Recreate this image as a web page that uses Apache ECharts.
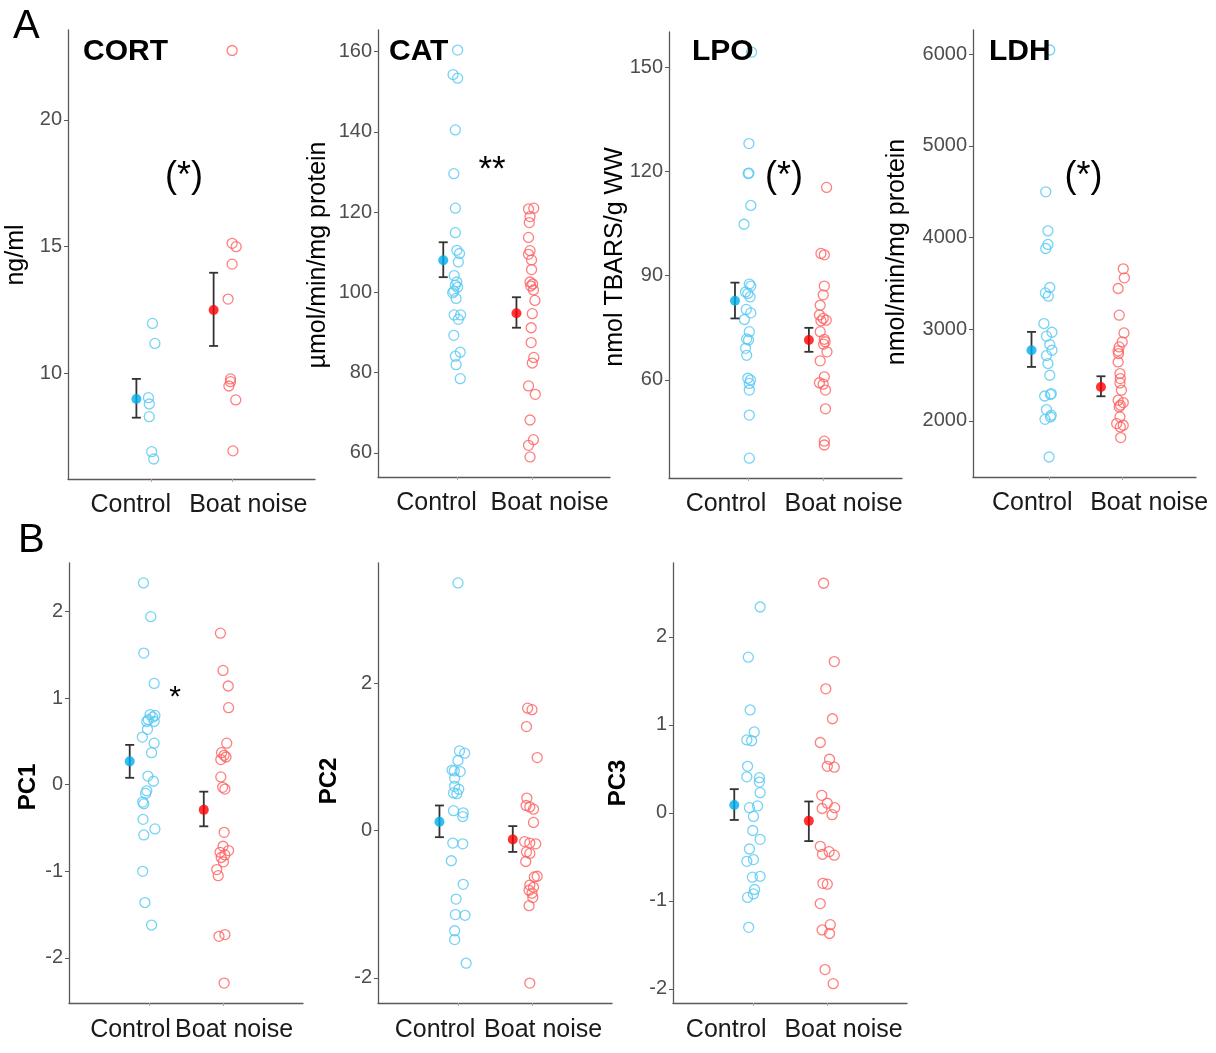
<!DOCTYPE html>
<html><head><meta charset="utf-8">
<script src="https://cdn.jsdelivr.net/npm/echarts@6/dist/echarts.min.js"></script>
<style>html,body{margin:0;padding:0;background:#fff}#c{width:1216px;height:1053px}</style>
</head><body><div id="c"></div>
<script>
const groups = ['Control', 'Boat noise'];

// ---- CORT (ng/ml)
const cortCtl = [11.97, 11.18, 9.04, 8.79, 8.29, 6.91, 6.62];
const cortCtlJit = [0.01, 0.04, -0.04, -0.03, -0.03, 0, 0.025];
const cortBoat = [22.74, 15.13, 15.0, 14.31, 12.93, 9.78, 9.67, 9.5, 8.95, 6.94];
const cortBoatJit = [0, 0, 0.05, 0, -0.05, -0.02, -0.02, -0.04, 0.045, 0.01];
const cortMean = [[8.99, 8.25, 9.78], [12.5, 11.08, 13.97]];
const cortTicks = [10, 15, 20];

// ---- CAT
const catCtl = [160.4,154.3,153.4,140.5,129.6,121.0,114.9,110.5,109.7,107.6,104.2,102.6,101.8,101.3,100.3,99.9,98.5,94.4,94.4,93.3,89.3,85.1,84.1,82.0,78.5];
const catCtlJit = [0.01,-0.05,0.01,-0.02,-0.04,-0.02,-0.02,0,0.035,0.02,-0.035,0,-0.02,0.01,-0.04,-0.055,-0.01,-0.035,0.05,0.02,-0.04,0.045,-0.02,-0.01,0.045];
const catBoat = [120.8,121.0,118.9,117.4,113.7,110.4,109.5,108.1,105.7,102.6,102.1,101.6,100.6,98.0,94.7,91.2,87.5,83.8,82.4,76.7,74.6,68.2,63.3,61.9,59.0];
const catBoatJit = [-0.05,0.02,-0.03,-0.04,-0.05,-0.03,-0.05,-0.01,-0.01,-0.03,0.005,-0.02,0.015,0.035,0,-0.015,-0.015,0.02,0,-0.05,0.04,-0.03,0.015,-0.05,-0.03];
const catMean = [[108.0, 103.8, 112.5], [94.8, 91.2, 98.8]];
const catTicks = [60, 80, 100, 120, 140, 160];

// ---- LPO
const lpoCtl = [154.3,128.0,119.5,119.4,110.2,104.8,87.6,87.0,85.3,84.9,83.9,80.3,79.3,77.4,73.9,71.8,71.5,69.1,67.1,60.5,60.0,59.0,57.1,49.9,37.5];
const lpoCtlJit = [0.05,0.015,0.015,0.005,0.04,-0.05,0.02,0.04,-0.03,0,0.03,-0.02,0.04,-0.045,0.02,-0.015,0.01,-0.03,-0.015,0,0.035,0.02,0.02,0.02,0.02];
const lpoBoat = [115.4,96.4,96.0,87.0,84.5,81.5,78.7,77.7,77.2,77.0,73.9,71.7,71.0,70.3,68.1,65.5,60.9,59.2,58.8,57.1,51.7,42.4,41.3];
const lpoBoatJit = [0.045,-0.03,0.015,0.015,0,-0.04,-0.05,0,0.04,-0.03,-0.04,0.015,0.025,0.005,0.05,-0.04,0.015,-0.05,0,0.03,0.03,0.015,0.015];
const lpoMean = [[82.8, 77.7, 88.0], [71.5, 68.1, 75.0]];
const lpoTicks = [60, 90, 120, 150];

// ---- LDH
const ldhCtl = [6044,4498,4073,3924,3880,3455,3396,3360,3062,2967,2924,2833,2771,2713,2626,2498,2298,2287,2272,2124,2062,2043,2018,1607];
const ldhCtlJit = [0.01,-0.045,-0.015,-0.015,-0.045,0.01,-0.05,-0.01,-0.07,0.04,-0.035,0.01,0.04,-0.035,-0.015,0.01,0.03,0.02,-0.06,-0.035,0.03,0.02,-0.055,0];
const ldhBoat = [3658,3560,3444,3153,2960,2862,2807,2764,2735,2643,2517,2462,2415,2335,2226,2200,2171,2153,2044,1971,1953,1935,1819];
const ldhBoatJit = [0.015,0.03,-0.055,-0.04,0.025,0,-0.04,-0.055,-0.05,-0.055,-0.03,-0.025,-0.03,-0.01,-0.055,0.015,-0.025,-0.04,-0.03,-0.075,0.015,-0.025,-0.02];
const ldhMean = [[2771, 2589, 2971], [2371, 2269, 2487]];
const ldhTicks = [2000, 3000, 4000, 5000, 6000];

// ---- PC1
const pc1Ctl = [2.33,1.94,1.52,1.17,0.81,0.80,0.78,0.75,0.73,0.73,0.64,0.55,0.48,0.37,0.10,0.04,-0.07,-0.10,-0.20,-0.22,-0.40,-0.51,-0.58,-1.00,-1.36,-1.62];
const pc1CtlJit = [-0.075,0.025,-0.07,0.07,0.015,0.08,0.05,-0.01,-0.03,0.07,-0.02,-0.09,0.07,0.035,-0.015,0.06,-0.03,-0.045,-0.085,-0.07,-0.08,0.08,-0.07,-0.085,-0.055,0.035];
const pc1Boat = [1.75,1.32,1.14,0.89,0.48,0.37,0.34,0.32,0.29,0.09,-0.03,-0.05,-0.55,-0.71,-0.76,-0.78,-0.81,-0.84,-0.89,-0.98,-1.05,-1.73,-1.75,-2.29];
const pc1BoatJit = [-0.035,0,0.07,0.075,0.05,-0.02,0.015,0.04,-0.03,-0.03,-0.005,0.025,0.015,0,0.075,-0.04,0.025,-0.025,0.005,-0.085,-0.065,0.025,-0.055,0.015];
const pc1Mean = [[0.27, 0.08, 0.46], [-0.29, -0.48, -0.08]];
const pc1Ticks = [-2, -1, 0, 1, 2];

// ---- PC2
const pc2Ctl = [3.36,1.08,1.05,0.95,0.82,0.81,0.80,0.71,0.60,0.56,0.51,0.50,0.27,0.24,0.19,-0.17,-0.18,-0.41,-0.73,-0.93,-1.14,-1.15,-1.36,-1.48,-1.80];
const pc2CtlJit = [0,0.02,0.09,0,-0.08,-0.05,0.03,-0.045,-0.045,0.01,-0.06,-0.015,-0.06,0.07,0.065,-0.07,0.065,-0.09,0.07,-0.025,-0.035,0.095,-0.045,-0.045,0.11];
const pc2Boat = [1.66,1.64,1.41,0.99,0.44,0.34,0.32,0.29,0.11,-0.15,-0.17,-0.18,-0.29,-0.31,-0.42,-0.62,-0.63,-0.74,-0.77,-0.81,-0.85,-0.91,-1.02,-2.07];
const pc2BoatJit = [-0.06,0,-0.075,0.07,-0.07,-0.08,-0.03,0.02,0.02,-0.1,-0.03,0.05,-0.075,-0.03,-0.085,0.07,0.03,-0.03,0.02,-0.04,0,0.01,-0.04,-0.03];
const pc2Mean = [[0.12, -0.09, 0.34], [-0.12, -0.29, 0.06]];
const pc2Ticks = [-2, 0, 2];

// ---- PC3
const pc3Ctl = [2.34,1.77,1.17,0.92,0.83,0.82,0.53,0.41,0.40,0.35,0.23,0.08,0.06,-0.04,-0.20,-0.30,-0.41,-0.53,-0.55,-0.72,-0.73,-0.87,-0.92,-0.96,-1.30];
const pc3CtlJit = [0.09,-0.07,-0.045,0.01,-0.09,-0.025,-0.08,-0.09,0.08,0.08,0.09,0.055,-0.055,0,-0.01,0.09,-0.055,0,-0.09,0.09,-0.015,0.015,0,-0.08,-0.065];
const pc3Boat = [2.61,1.72,1.41,1.07,0.80,0.61,0.53,0.52,0.20,0.11,0.06,0.05,-0.02,-0.38,-0.44,-0.47,-0.48,-0.80,-0.81,-1.03,-1.27,-1.33,-1.37,-1.78,-1.94];
const pc3BoatJit = [-0.05,0.095,-0.02,0.07,-0.095,0.03,0,0.095,-0.075,0,0.1,-0.07,0.065,-0.095,0.025,-0.065,0.095,-0.06,0,-0.095,0.04,-0.07,0.03,-0.03,0.08];
const pc3Mean = [[0.09, -0.08, 0.27], [-0.09, -0.32, 0.13]];
const pc3Ticks = [-2, -1, 0, 1, 2];

// ---------------- layout / styling ----------------
const FONT = '"Liberation Sans", Arial, sans-serif';
const panels = [
  {ctl: cortCtl, cj: cortCtlJit, boat: cortBoat, bj: cortBoatJit, mean: cortMean, ticks: cortTicks,
   box: [68, 30, 247, 449], y: [5.83, 23.55], x: [-0.04, 3.03], lab: [0.74, 2.2], dodge: [-0.19, -0.23]},
  {ctl: catCtl, cj: catCtlJit, boat: catBoat, bj: catBoatJit, mean: catMean, ticks: catTicks,
   box: [378, 30, 232, 447], y: [54.0, 165.4], x: [-0.045, 3.03], lab: [0.73, 2.23], dodge: [-0.18, -0.21]},
  {ctl: lpoCtl, cj: lpoCtlJit, boat: lpoBoat, bj: lpoBoatJit, mean: lpoMean, ticks: lpoTicks,
   box: [669, 32, 233, 446], y: [31.8, 160.1], x: [-0.045, 3.045], lab: [0.71, 2.27], dodge: [-0.17, -0.19]},
  {ctl: ldhCtl, cj: ldhCtlJit, boat: ldhBoat, bj: ldhBoatJit, mean: ldhMean, ticks: ldhTicks,
   box: [973, 30, 223, 447], y: [1389, 6262], x: [-0.04, 3.01], lab: [0.77, 2.37], dodge: [-0.24, -0.29]},
  {ctl: pc1Ctl, cj: pc1CtlJit, boat: pc1Boat, bj: pc1BoatJit, mean: pc1Mean, ticks: pc1Ticks,
   box: [69, 563, 234, 440], y: [-2.52, 2.56], x: [-0.08, 3.08], lab: [0.75, 2.15], dodge: [-0.26, -0.26]},
  {ctl: pc2Ctl, cj: pc2CtlJit, boat: pc2Boat, bj: pc2BoatJit, mean: pc2Mean, ticks: pc2Ticks,
   box: [378, 563, 234, 440], y: [-2.34, 3.63], x: [-0.08, 3.08], lab: [0.69, 2.15], dodge: [-0.25, -0.26]},
  {ctl: pc3Ctl, cj: pc3CtlJit, boat: pc3Boat, bj: pc3BoatJit, mean: pc3Mean, ticks: pc3Ticks,
   box: [673, 563, 234, 440], y: [-2.16, 2.84], x: [-0.09, 3.08], lab: [0.63, 2.22], dodge: [-0.26, -0.25]}
];

const CTL_OPEN = '#55C8F2', CTL_MEAN = '#00AEEF';
const BOAT_OPEN = '#FF5F5F', BOAT_MEAN = '#FF0000';
const AXIS_C = '#5a5a5a';

const grid = [], xAxis = [], yAxis = [], series = [];
panels.forEach((p, i) => {
  grid.push({left: p.box[0], top: p.box[1], width: p.box[2], height: p.box[3], containLabel: false, outerBoundsMode: 'none'});
  xAxis.push({
    gridIndex: i, type: 'value', min: p.x[0], max: p.x[1],
    splitLine: {show: false},
    axisLine: {show: true, onZero: false, lineStyle: {color: AXIS_C, width: 1.3}},
    axisTick: {show: true, length: 3, customValues: [1, 2], lineStyle: {color: '#aaa'}},
    axisLabel: {show: true, customValues: p.lab, margin: i < 4 ? 14 : 15, fontSize: 25, color: '#1a1a1a', fontFamily: FONT,
      formatter: v => (v < 1.5 ? groups[0] : groups[1])}
  });
  yAxis.push({
    gridIndex: i, type: 'value', min: p.y[0], max: p.y[1],
    splitLine: {show: false},
    axisLine: {show: true, onZero: false, lineStyle: {color: AXIS_C, width: 1.3}},
    axisTick: {show: true, length: 4, customValues: p.ticks, lineStyle: {color: AXIS_C}},
    axisLabel: {show: true, customValues: p.ticks, margin: 6, fontSize: 20, color: '#4d4d4d', fontFamily: FONT,
      formatter: v => String(v)}
  });
  const openStyle = c => ({color: 'rgba(255,255,255,0)', borderColor: c, borderWidth: 1.3});
  series.push({type: 'scatter', xAxisIndex: i, yAxisIndex: i, symbol: 'circle', symbolSize: 10,
    itemStyle: openStyle(CTL_OPEN), data: p.ctl.map((v, k) => [1 + p.cj[k], v]), z: 2, silent: true});
  series.push({type: 'scatter', xAxisIndex: i, yAxisIndex: i, symbol: 'circle', symbolSize: 10,
    itemStyle: openStyle(BOAT_OPEN), data: p.boat.map((v, k) => [2 + p.bj[k], v]), z: 2, silent: true});
  series.push({type: 'custom', xAxisIndex: i, yAxisIndex: i, z: 3, silent: true, clip: false,
    encode: {x: 0, y: [1, 2]},
    data: p.mean.map((m, g) => [g + 1 + p.dodge[g], m[1], m[2]]),
    renderItem: (params, api) => {
      const x = api.value(0);
      const a = api.coord([x, api.value(1)]);
      const b = api.coord([x, api.value(2)]);
      const hw = 4.5;
      const st = {stroke: '#333', lineWidth: 1.8};
      return {type: 'group', children: [
        {type: 'line', shape: {x1: a[0], y1: a[1], x2: b[0], y2: b[1]}, style: st},
        {type: 'line', shape: {x1: a[0] - hw, y1: a[1], x2: a[0] + hw, y2: a[1]}, style: st},
        {type: 'line', shape: {x1: b[0] - hw, y1: b[1], x2: b[0] + hw, y2: b[1]}, style: st}
      ]};
    }});
  series.push({type: 'scatter', xAxisIndex: i, yAxisIndex: i, symbol: 'circle', symbolSize: 10, z: 4, silent: true,
    data: p.mean.map((m, g) => ({value: [g + 1 + p.dodge[g], m[0]], itemStyle: {color: g === 0 ? CTL_MEAN : BOAT_MEAN}}))});
});

function txt(text, x, y, size, opts) {
  opts = opts || {};
  return {type: 'text', x: x, y: y, rotation: opts.rot || 0, z: 10, silent: true,
    style: {text: text, fontSize: size, fontWeight: opts.bold ? 'bold' : 'normal', fontFamily: FONT,
      fill: opts.fill || '#000', align: opts.align || 'center', verticalAlign: 'middle'}};
}
const R = Math.PI / 2;
const graphic = [
  txt('A', 13, 27, 40, {align: 'left'}),
  txt('B', 18, 541, 40, {align: 'left'}),
  txt('CORT', 83, 52, 30, {bold: true, align: 'left'}),
  txt('CAT', 389, 52, 30, {bold: true, align: 'left'}),
  txt('LPO', 692, 52, 30, {bold: true, align: 'left'}),
  txt('LDH', 989, 52, 30, {bold: true, align: 'left'}),
  txt('(*)', 184, 177, 36),
  txt('**', 492, 170, 35),
  txt('(*)', 784, 177, 36),
  txt('(*)', 1083.5, 177, 36),
  txt('*', 175, 698, 30),
  txt('ng/ml', 16, 255, 25, {rot: R}),
  txt('µmol/min/mg protein', 318, 255, 25, {rot: R}),
  txt('nmol TBARS/g WW', 615, 257, 25, {rot: R}),
  txt('nmol/min/mg protein', 897, 252, 25, {rot: R}),
  txt('PC1', 28, 787, 24, {rot: R, bold: true}),
  txt('PC2', 329.5, 781, 24, {rot: R, bold: true}),
  txt('PC3', 618, 783, 24, {rot: R, bold: true})
];

const chart = echarts.init(document.getElementById('c'), null, {renderer: 'canvas'});
chart.setOption({backgroundColor: '#fff', animation: false, grid, xAxis, yAxis, series, graphic});
</script></body></html>
